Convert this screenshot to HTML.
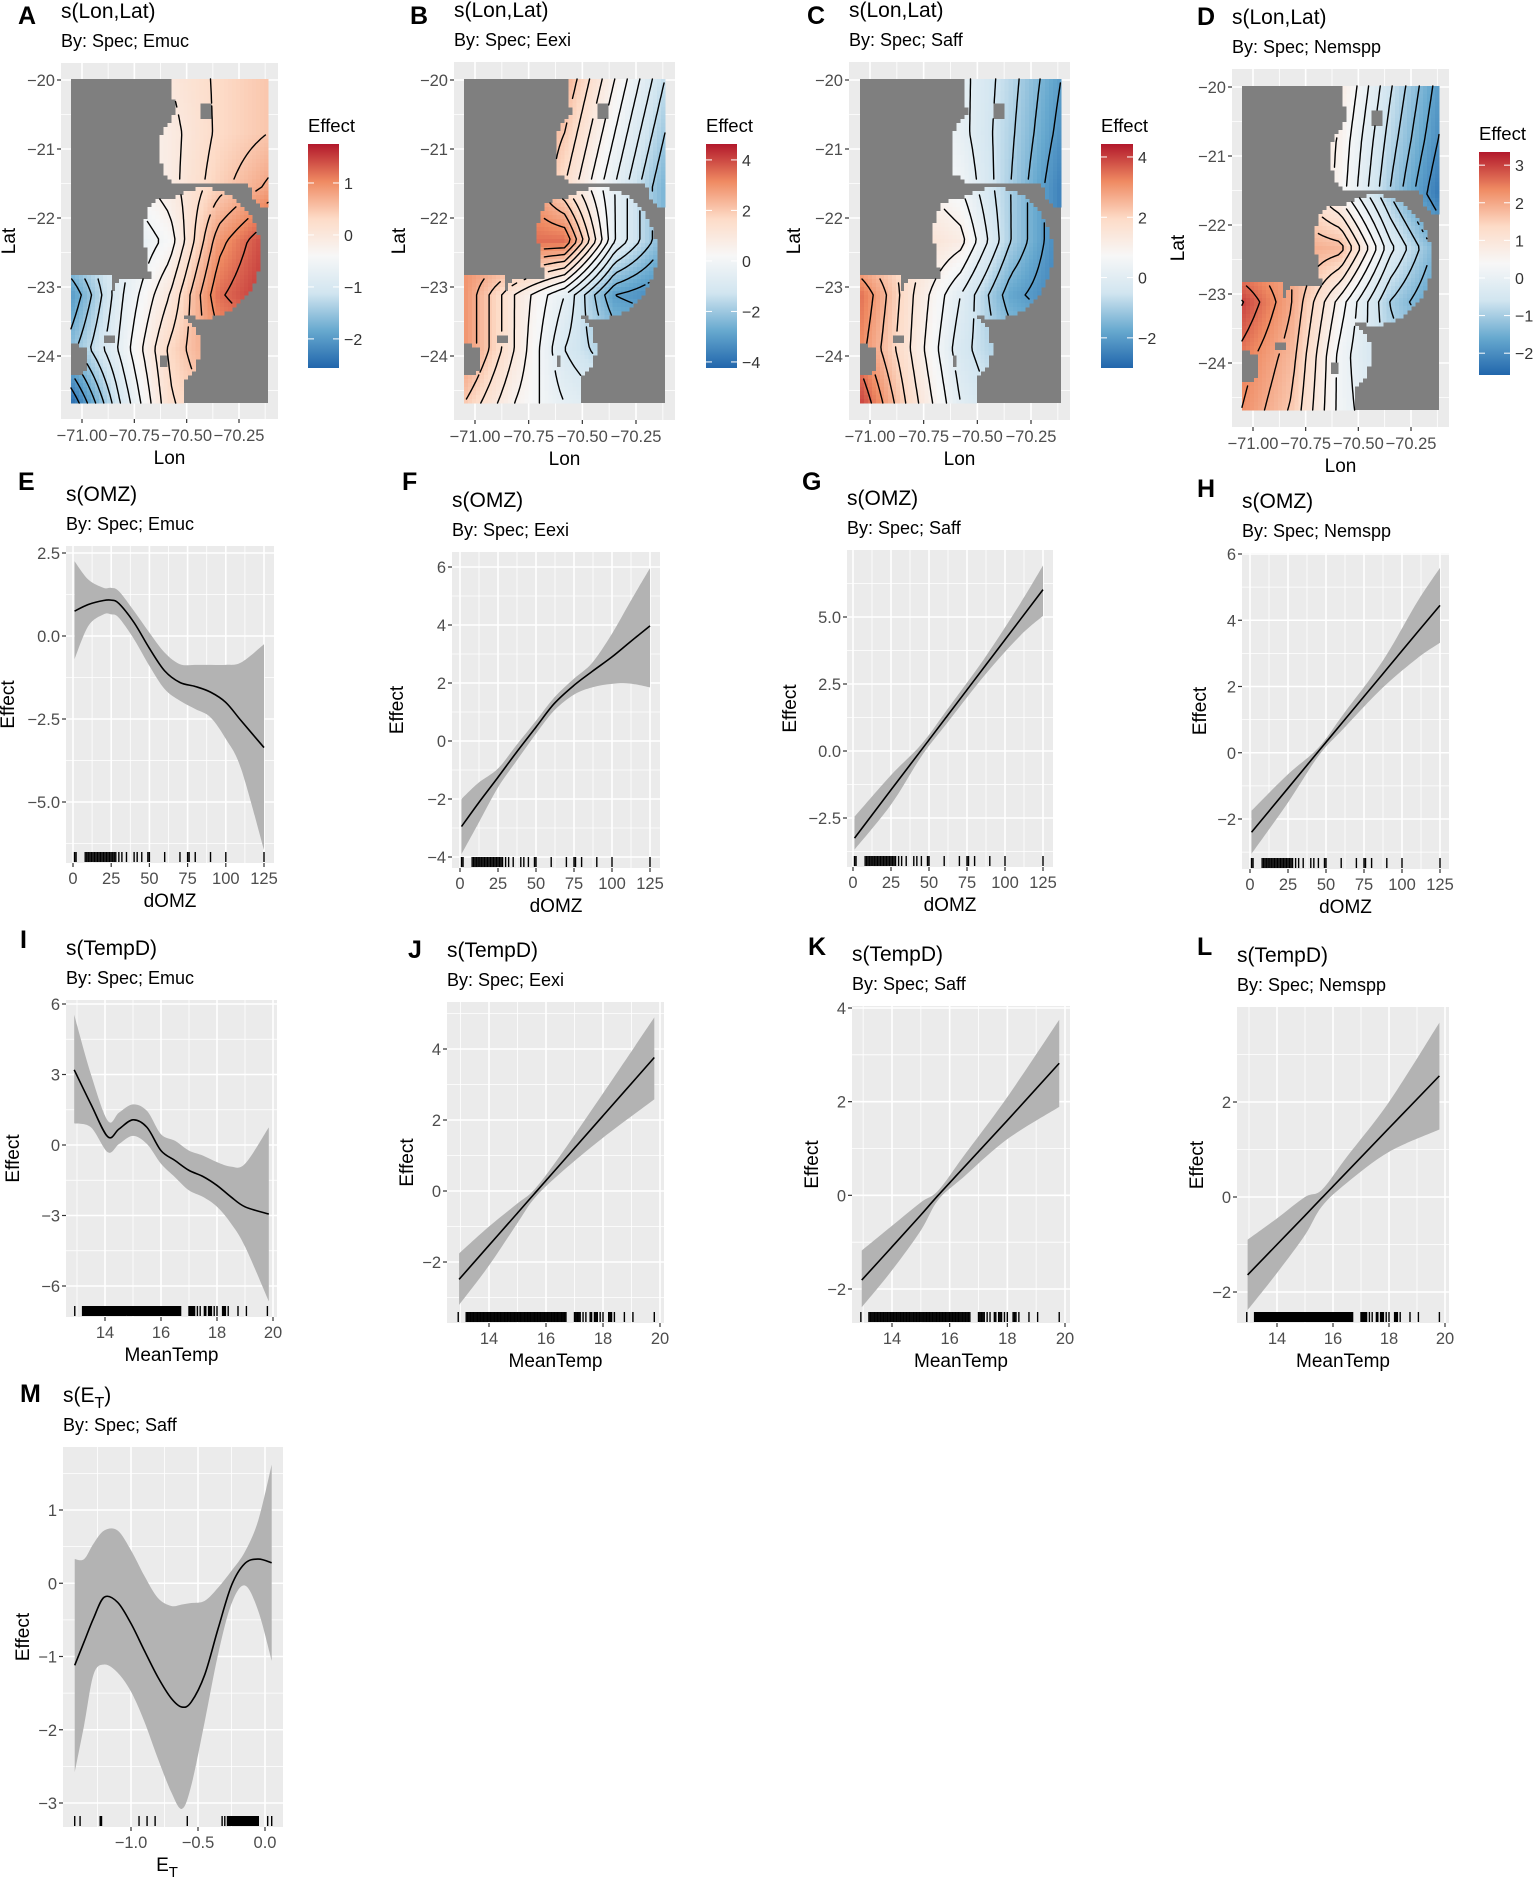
<!DOCTYPE html>
<html><head><meta charset="utf-8"><title>GAM smooth effects</title>
<style>
html,body{margin:0;padding:0;background:#fff;}
svg{display:block;font-family:"Liberation Sans",Arial,sans-serif;}
</style></head>
<body>
<svg id="chart" width="1535" height="1882" viewBox="0 0 1535 1882" xmlns="http://www.w3.org/2000/svg">
<defs>
<linearGradient id="rdbu" x1="0" y1="1" x2="0" y2="0">
<stop offset="0" stop-color="#2166ac"/><stop offset="0.1667" stop-color="#67a9cf"/><stop offset="0.3333" stop-color="#d1e5f0"/><stop offset="0.5" stop-color="#f7f7f7"/><stop offset="0.6667" stop-color="#fddbc7"/><stop offset="0.8333" stop-color="#ef8a62"/><stop offset="1" stop-color="#b2182b"/>
</linearGradient>
</defs>
<rect x="0" y="0" width="1535" height="1882" fill="#fff"/>
</svg>
<script>
// ---------------- DATA ----------------
const omzRug = [1,2,8,9,10,11,12,13,14,15,16,17,18,19,20,21,22,23,24,25,26,27,28,30,32,35,40,42,45,49,50,60,70,75,76,80,90,100,125];
const tempRug = [12.92,13.2,13.25,13.3,13.35,13.4,13.45,13.5,13.55,13.6,13.65,13.7,13.75,13.8,13.85,13.9,13.95,14.0,14.05,14.1,14.15,14.2,14.25,14.3,14.35,14.4,14.45,14.5,14.55,14.6,14.65,14.7,14.75,14.8,14.85,14.9,14.95,15.0,15.05,15.1,15.15,15.2,15.25,15.3,15.35,15.4,15.45,15.5,15.55,15.6,15.65,15.7,15.75,15.8,15.85,15.9,15.95,16.0,16.05,16.1,16.15,16.2,16.25,16.3,16.35,16.4,16.45,16.5,16.55,16.6,16.65,16.7,17.0,17.05,17.1,17.15,17.2,17.3,17.4,17.55,17.6,17.7,17.75,17.8,17.9,18.0,18.2,18.25,18.3,18.4,18.75,19.05,19.8];
const etRug = [-1.42,-1.38,-1.23,-1.22,-0.94,-0.88,-0.82,-0.58,-0.32,-0.3,-0.28,-0.27,-0.26,-0.25,-0.24,-0.23,-0.22,-0.21,-0.2,-0.19,-0.18,-0.17,-0.16,-0.15,-0.14,-0.13,-0.12,-0.11,-0.1,-0.09,-0.08,-0.07,-0.06,-0.05,0.02,0.05];

const omzE_x   = [1,10,20,25,30,40,50,60,70,80,90,100,110,125];
const omzE_fit = [0.75,0.95,1.07,1.08,0.98,0.4,-0.37,-1.05,-1.4,-1.52,-1.69,-2.0,-2.55,-3.36];
const omzE_hi  = [2.25,1.7,1.45,1.45,1.35,0.75,0.1,-0.5,-0.85,-0.87,-0.87,-0.87,-0.8,-0.25];
const omzE_lo  = [-0.7,0.3,0.65,0.65,0.55,-0.1,-0.9,-1.6,-1.95,-2.2,-2.45,-3.1,-4.0,-6.45];

const omzF_x   = [1,12,25,37,50,62,75,87,100,112,125];
const omzF_fit = [-2.95,-2.15,-1.25,-0.4,0.48,1.29,1.92,2.4,2.9,3.42,3.97];
const omzF_hi  = [-2.0,-1.45,-0.95,-0.15,0.7,1.5,2.15,2.7,3.7,4.8,5.96];
const omzF_lo  = [-3.9,-2.85,-1.6,-0.7,0.25,1.05,1.6,1.85,1.97,1.98,1.85];

const omzG_x   = [1,25,45,62,87,110,125];
const omzG_fit = [-3.25,-1.45,0.04,1.31,3.18,4.9,6.02];
const omzG_hi  = [-2.45,-0.9,0.25,1.55,3.5,5.5,6.92];
const omzG_lo  = [-3.68,-2.0,-0.2,1.05,2.85,4.3,5.04];

const omzH_x   = [1,25,45,62,87,110,125];
const omzH_fit = [-2.4,-1.07,0.04,0.98,2.36,3.63,4.45];
const omzH_hi  = [-1.75,-0.65,0.15,1.2,2.75,4.55,5.58];
const omzH_lo  = [-3.05,-1.5,-0.1,0.75,1.95,2.85,3.32];

const tmpI_x   = [12.9,13.5,14.1,14.5,15.0,15.5,16.0,16.5,17.0,17.5,18.0,18.5,19.0,19.85];
const tmpI_fit = [3.2,1.73,0.35,0.68,1.07,0.75,-0.24,-0.66,-1.08,-1.34,-1.72,-2.21,-2.63,-2.94];
const tmpI_hi  = [5.54,3.0,1.03,1.38,1.73,1.45,0.46,0.18,-0.24,-0.45,-0.73,-0.92,-0.8,0.75];
const tmpI_lo  = [0.92,0.75,-0.31,0.04,0.39,0.04,-0.8,-1.37,-1.93,-2.21,-2.63,-3.34,-4.32,-6.65];

const tmpJ_x   = [12.95,14,15,15.6,16.5,18,19.8];
const tmpJ_fit = [-2.49,-1.53,-0.62,-0.07,0.75,2.12,3.76];
const tmpJ_hi  = [-1.76,-1.0,-0.35,0.05,1.0,2.75,4.89];
const tmpJ_lo  = [-3.21,-2.1,-0.9,-0.2,0.5,1.5,2.58];

const tmpK_x   = [12.95,14,15,15.6,16.5,18,19.8];
const tmpK_fit = [-1.81,-1.1,-0.42,0.0,0.6,1.6,2.82];
const tmpK_hi  = [-1.18,-0.65,-0.15,0.1,0.85,2.1,3.75];
const tmpK_lo  = [-2.39,-1.6,-0.75,-0.1,0.4,1.2,1.89];

const tmpL_x   = [12.95,14,15,15.6,16.5,18,19.8];
const tmpL_fit = [-1.64,-1.0,-0.39,-0.02,0.53,1.45,2.55];
const tmpL_hi  = [-0.9,-0.45,0.0,0.15,0.85,2.0,3.67];
const tmpL_lo  = [-2.38,-1.6,-0.8,-0.2,0.3,0.95,1.42];

const etM_x   = [-1.42,-1.35,-1.28,-1.2,-1.1,-1.0,-0.9,-0.8,-0.7,-0.62,-0.55,-0.45,-0.35,-0.25,-0.15,-0.05,0.05];
const etM_fit = [-1.12,-0.8,-0.48,-0.19,-0.26,-0.55,-0.92,-1.28,-1.57,-1.69,-1.62,-1.25,-0.62,-0.03,0.27,0.33,0.28];
const etM_hi  = [0.33,0.33,0.54,0.72,0.72,0.45,0.1,-0.2,-0.31,-0.29,-0.27,-0.24,-0.06,0.17,0.43,0.86,1.62];
const etM_lo  = [-2.58,-1.94,-1.25,-1.11,-1.22,-1.48,-1.89,-2.39,-2.85,-3.08,-2.76,-1.89,-0.97,-0.28,-0.03,-0.38,-1.06];

// spatial effect grids (rows north->south, cols west->east)
const mapA_vals = [[-0.5,-0.3,0,0.3,0.5],[-0.6,-0.4,-0.1,0.3,0.5],[-0.8,-0.5,-0.1,0.4,0.8],[-1.2,-0.9,-0.4,0.9,1.5],[-2.0,-0.8,0.0,1.2,1.6],[-1.6,-0.7,0.3,0.9,1.0],[-2.5,-1.0,0.2,0.6,0.6]];
const mapB_vals = [[3,3,2.5,0.5,-1.5],[3,3,2,0,-2],[3.5,3.5,1.5,-0.5,-2.5],[3,3.5,3.5,-0.5,-2.5],[3,1,-0.5,-3,-3.5],[3,1,-1,-2,-2],[2,0.5,-0.5,-1,-1]];
const mapC_vals = [[1,0.8,0.2,-0.8,-2],[1,0.8,0.2,-0.9,-2.2],[1.5,1.2,0.5,-1,-2.5],[2,1.8,1.2,-1,-2.5],[3.5,1.6,0,-1.8,-2.5],[3.2,1.5,-0.3,-1.2,-1.5],[4,1.8,0,-0.8,-1]];
const mapD_vals = [[1.5,1.3,0.8,-0.6,-1.8],[1.5,1.3,0.6,-0.8,-2],[1.8,1.6,0.5,-1,-2.3],[2,2,1.8,-0.2,-1.5],[3,2,0.5,-1,-1.8],[2.5,1.8,0.2,-0.8,-1],[2.3,1.6,0.2,-0.5,-0.5]];
const mapA_cbTicks = [1,0,-1,-2];
const mapB_cbTicks = [4,2,0,-2,-4];
const mapC_cbTicks = [4,2,0,-2];
const mapD_cbTicks = [3,2,1,0,-1,-2];
const lonTicks = [-71,-70.75,-70.5,-70.25];
const lonLabels = ["−71.00","−70.75","−70.50","−70.25"];
const latTicks = [-20,-21,-22,-23,-24];

// ---------------- HELPERS ----------------
const NS='http://www.w3.org/2000/svg';
const svg=document.getElementById('chart');
const TICKFS=16.5;
function mk(tag,attrs,parent){const e=document.createElementNS(NS,tag);for(const k in attrs)e.setAttribute(k,attrs[k]);(parent||svg).appendChild(e);return e;}
function lin(v0,p0,v1,p1){return v=>p0+(v-v0)*(p1-p0)/(v1-v0);}
function fmt(v){return (v<0?'−':'')+Math.abs(v);}
function txt(parent,x,y,s,size,anchor,fill,weight,name){
  const t=mk('text',{x:x,y:y,'font-size':size,'text-anchor':anchor||'start',fill:fill||'#000','font-weight':weight||'normal'},parent);
  t.textContent=s;
  
  
  return t;
}
function smoothPath(pts,move){
  let d=(move?'M':'L')+pts[0][0].toFixed(2)+','+pts[0][1].toFixed(2);
  for(let i=0;i<pts.length-1;i++){
    const p0=pts[Math.max(0,i-1)],p1=pts[i],p2=pts[i+1],p3=pts[Math.min(pts.length-1,i+2)];
    const c1x=p1[0]+(p2[0]-p0[0])/6,c1y=p1[1]+(p2[1]-p0[1])/6;
    const c2x=p2[0]-(p3[0]-p1[0])/6,c2y=p2[1]-(p3[1]-p1[1])/6;
    d+='C'+c1x.toFixed(2)+','+c1y.toFixed(2)+' '+c2x.toFixed(2)+','+c2y.toFixed(2)+' '+p2[0].toFixed(2)+','+p2[1].toFixed(2);
  }
  return d;
}
function minors(ticks,lo,hi){
  const st=ticks[1]-ticks[0],out=[];
  const a=Math.min(ticks[0],ticks[ticks.length-1]),b=Math.max(ticks[0],ticks[ticks.length-1]),s=Math.abs(st);
  for(let v=a-s/2;v<=b+s/2+1e-9;v+=s){if(v>=lo&&v<=hi)out.push(v);}
  return out;
}
function headings(g,p){
  txt(g,p.lx,p.ly,p.letter,25,'start','#000','bold','panel-letter');
  if(p.sub){
    const t=mk('text',{x:p.left,y:p.top-45,'font-size':21,fill:'#000'},g);
    
    
    t.appendChild(document.createTextNode('s(E'));
    const ts=mk('tspan',{'font-size':16,dy:6},t); ts.textContent='T';
    const t2=mk('tspan',{dy:-6},t); t2.textContent=')';
  } else txt(g,p.left,p.top-45,p.title,21,'start','#000','normal','panel-title');
  txt(g,p.left,p.top-16,p.subtitle,18,'start','#000','normal','panel-subtitle');
}

// ---------------- LINE PANELS ----------------
const linePanels=[
 {id:'E',letter:'E',lx:18,ly:490,title:'s(OMZ)',subtitle:'By: Spec; Emuc',left:66,top:546,right:274,bottom:863,xa:[0,73,125,264],ya:[2.5,553,-5,802],xt:[0,25,50,75,100,125],xl:['0','25','50','75','100','125'],yt:[2.5,0,-2.5,-5],yl:['2.5','0.0','−2.5','−5.0'],xlab:'dOMZ',ylx:8,x:omzE_x,fit:omzE_fit,hi:omzE_hi,lo:omzE_lo,rug:omzRug},
 {id:'F',letter:'F',lx:402,ly:490,title:'s(OMZ)',subtitle:'By: Spec; Eexi',left:452,top:552,right:660,bottom:868,xa:[0,460,125,650],ya:[6,567,-4,857],xt:[0,25,50,75,100,125],xl:['0','25','50','75','100','125'],yt:[6,4,2,0,-2,-4],yl:['6','4','2','0','−2','−4'],xlab:'dOMZ',ylx:397,x:omzF_x,fit:omzF_fit,hi:omzF_hi,lo:omzF_lo,rug:omzRug},
 {id:'G',letter:'G',lx:802,ly:490,title:'s(OMZ)',subtitle:'By: Spec; Saff',left:847,top:550,right:1053,bottom:867,xa:[0,853,125,1043],ya:[5,617,-2.5,818],xt:[0,25,50,75,100,125],xl:['0','25','50','75','100','125'],yt:[5,2.5,0,-2.5],yl:['5.0','2.5','0.0','−2.5'],xlab:'dOMZ',ylx:790,x:omzG_x,fit:omzG_fit,hi:omzG_hi,lo:omzG_lo,rug:omzRug},
 {id:'H',letter:'H',lx:1197,ly:497,title:'s(OMZ)',subtitle:'By: Spec; Nemspp',left:1242,top:553,right:1449,bottom:869,xa:[0,1250,125,1440],ya:[6,554,-2,819],xt:[0,25,50,75,100,125],xl:['0','25','50','75','100','125'],yt:[6,4,2,0,-2],yl:['6','4','2','0','−2'],xlab:'dOMZ',ylx:1200,x:omzH_x,fit:omzH_fit,hi:omzH_hi,lo:omzH_lo,rug:omzRug},
 {id:'I',letter:'I',lx:20,ly:948,title:'s(TempD)',subtitle:'By: Spec; Emuc',left:66,top:1000,right:277,bottom:1317,xa:[14,105,20,273],ya:[6,1004,-6,1286],xt:[14,16,18,20],xl:['14','16','18','20'],yt:[6,3,0,-3,-6],yl:['6','3','0','−3','−6'],xlab:'MeanTemp',ylx:13,x:tmpI_x,fit:tmpI_fit,hi:tmpI_hi,lo:tmpI_lo,rug:tempRug},
 {id:'J',letter:'J',lx:408,ly:958,title:'s(TempD)',subtitle:'By: Spec; Eexi',left:447,top:1002,right:664,bottom:1323,xa:[14,489,20,660],ya:[4,1049,-2,1262],xt:[14,16,18,20],xl:['14','16','18','20'],yt:[4,2,0,-2],yl:['4','2','0','−2'],xlab:'MeanTemp',ylx:407,x:tmpJ_x,fit:tmpJ_fit,hi:tmpJ_hi,lo:tmpJ_lo,rug:tempRug},
 {id:'K',letter:'K',lx:808,ly:955,title:'s(TempD)',subtitle:'By: Spec; Saff',left:852,top:1006,right:1070,bottom:1323,xa:[14,892,20,1065],ya:[4,1008,-2,1289],xt:[14,16,18,20],xl:['14','16','18','20'],yt:[4,2,0,-2],yl:['4','2','0','−2'],xlab:'MeanTemp',ylx:812,x:tmpK_x,fit:tmpK_fit,hi:tmpK_hi,lo:tmpK_lo,rug:tempRug},
 {id:'L',letter:'L',lx:1197,ly:955,title:'s(TempD)',subtitle:'By: Spec; Nemspp',left:1237,top:1007,right:1449,bottom:1323,xa:[14,1277,20,1445],ya:[2,1102,-2,1292],xt:[14,16,18,20],xl:['14','16','18','20'],yt:[2,0,-2],yl:['2','0','−2'],xlab:'MeanTemp',ylx:1197,x:tmpL_x,fit:tmpL_fit,hi:tmpL_hi,lo:tmpL_lo,rug:tempRug},
 {id:'M',letter:'M',lx:20,ly:1402,sub:true,subtitle:'By: Spec; Saff',left:63,top:1447,right:283,bottom:1827,xa:[-1,131,0,265],ya:[1,1510,-3,1803],xt:[-1,-0.5,0],xl:['−1.0','−0.5','0.0'],yt:[1,0,-1,-2,-3],yl:['1','0','−1','−2','−3'],xlab:'E',ylx:23,x:etM_x,fit:etM_fit,hi:etM_hi,lo:etM_lo,rug:etRug}
];

linePanels.forEach(p=>{
  const g=mk('g',{});
  
  
  headings(g,p);
  const sx=lin(p.xa[0],p.xa[1],p.xa[2],p.xa[3]);
  const sy=lin(p.ya[0],p.ya[1],p.ya[2],p.ya[3]);
  const inv=v=>p.xa[0]+(v-p.xa[1])*(p.xa[2]-p.xa[0])/(p.xa[3]-p.xa[1]);
  const invy=v=>p.ya[0]+(v-p.ya[1])*(p.ya[2]-p.ya[0])/(p.ya[3]-p.ya[1]);
  const bg=mk('rect',{x:p.left,y:p.top,width:p.right-p.left,height:p.bottom-p.top,fill:'#ebebeb'},g);
  
  
  const xlo=inv(p.left),xhi=inv(p.right),ylo=invy(p.bottom),yhi=invy(p.top);
  minors(p.xt,xlo,xhi).forEach(v=>{const l=mk('line',{x1:sx(v),x2:sx(v),y1:p.top,y2:p.bottom,stroke:'#fff','stroke-width':0.8},g);});
  minors(p.yt,ylo,yhi).forEach(v=>{const l=mk('line',{y1:sy(v),y2:sy(v),x1:p.left,x2:p.right,stroke:'#fff','stroke-width':0.8},g);});
  p.xt.forEach(v=>{const l=mk('line',{x1:sx(v),x2:sx(v),y1:p.top,y2:p.bottom,stroke:'#fff','stroke-width':1.6},g);});
  p.yt.forEach(v=>{const l=mk('line',{y1:sy(v),y2:sy(v),x1:p.left,x2:p.right,stroke:'#fff','stroke-width':1.6},g);});
  // ribbon
  const up=p.x.map((v,i)=>[sx(v),sy(p.hi[i])]);
  const dn=p.x.map((v,i)=>[sx(v),sy(p.lo[i])]).reverse();
  const rib=mk('path',{d:smoothPath(up,true)+'L'+dn[0][0]+','+dn[0][1]+smoothPath(dn,false).slice(1).replace(/^[^C]*/,'')+'Z',fill:'#b3b3b3'},g);
  
  
  const ln=mk('path',{d:smoothPath(p.x.map((v,i)=>[sx(v),sy(p.fit[i])]),true),fill:'none',stroke:'#000','stroke-width':1.6},g);
  
  
  // rug
  let rd='';
  p.rug.forEach(v=>{const x=sx(v).toFixed(2);rd+='M'+x+','+(p.bottom-11)+'L'+x+','+(p.bottom-1);});
  const rug=mk('path',{d:rd,stroke:'#000','stroke-width':1.4,fill:'none'},g);
  
  
  // axes
  p.xt.forEach((v,i)=>{
    const t=mk('line',{x1:sx(v),x2:sx(v),y1:p.bottom,y2:p.bottom+4,stroke:'#333','stroke-width':1.2},g);
    
    
    txt(g,sx(v),p.bottom+21,p.xl[i],TICKFS,'middle','#4d4d4d','normal','x-tick-label');
  });
  p.yt.forEach((v,i)=>{
    const t=mk('line',{x1:p.left-4,x2:p.left,y1:sy(v),y2:sy(v),stroke:'#333','stroke-width':1.2},g);
    
    
    txt(g,p.left-6,sy(v)+6,p.yl[i],TICKFS,'end','#4d4d4d','normal','y-tick-label');
  });
  const cx=(p.left+p.right)/2;
  if(p.sub){
    const t=mk('text',{x:cx-6,y:p.bottom+44,'font-size':19,'text-anchor':'middle',fill:'#000'},g);
    
    
    t.appendChild(document.createTextNode('E'));
    const ts=mk('tspan',{'font-size':15,dy:6},t);ts.textContent='T';
  } else txt(g,cx,p.bottom+44,p.xlab,19,'middle','#000','normal','x-axis-title');
  const yl=txt(g,p.ylx+6,(p.top+p.bottom)/2,'Effect',19,'middle','#000','normal','y-axis-title');
  yl.setAttribute('transform','rotate(-90 '+(p.ylx+6)+' '+((p.top+p.bottom)/2)+')');
});

// ---------------- MAP PANELS ----------------
const northPoly=[[0.51,0],[1,0],[1,0.393],[0.94,0.388],[0.899,0.316],[0.721,0.316],[0.654,0.319],[0.586,0.319],[0.519,0.316],[0.468,0.29],[0.451,0.239],[0.459,0.167],[0.493,0.136],[0.535,0.105],[0.519,0.053]];
const southPoly=[[0,0.609],[0.198,0.609],[0.206,0.66],[0.24,0.619],[0.519,0.609],[0.561,0.66],[0.569,0.733],[0.637,0.774],[0.654,0.835],[0.637,0.887],[0.578,0.928],[0.578,1],[0,1],[0,0.918],[0.071,0.907],[0.079,0.825],[0,0.815]];
function inPoly(u,v,poly){let c=false;for(let i=0,j=poly.length-1;i<poly.length;j=i++){const a=poly[i],b=poly[j];if(((a[1]>v)!=(b[1]>v))&&(u<(b[0]-a[0])*(v-a[1])/(b[1]-a[1])+a[0]))c=!c;}return c;}
function inEll(u,v,cx,cy,rx,ry){const a=(u-cx)/rx,b=(v-cy)/ry;return a*a+b*b<=1;}
function inBox(u,v,x0,x1,y0,y1){return u>=x0&&u<=x1&&v>=y0&&v<=y1;}
function inMask(u,v){
  if(inPoly(u,v,northPoly)&&!inBox(u,v,0.66,0.71,0.08,0.12))return true;
  if(inEll(u,v,0.671,0.537,0.287,0.2)&&u<=1)return true;
  if(inEll(u,v,0.476,0.475,0.11,0.108))return true;
  if(inPoly(u,v,southPoly)&&!inBox(u,v,0.16,0.22,0.79,0.82)&&!inBox(u,v,0.455,0.485,0.855,0.895))return true;
  return false;
}
const RD=[[33,102,172],[103,169,207],[209,229,240],[247,247,247],[253,219,199],[239,138,98],[178,24,43]];
function colorOf(t){t=Math.max(0,Math.min(1,t))*6;const i=Math.min(5,Math.floor(t)),f=t-i,a=RD[i],b=RD[i+1];return 'rgb('+Math.round(a[0]+(b[0]-a[0])*f)+','+Math.round(a[1]+(b[1]-a[1])*f)+','+Math.round(a[2]+(b[2]-a[2])*f)+')';}
function bilin(G,u,v){const R=G.length,C=G[0].length;const gx=Math.max(0,Math.min(C-1,u*(C-1))),gy=Math.max(0,Math.min(R-1,v*(R-1)));const i=Math.min(C-2,Math.floor(gx)),j=Math.min(R-2,Math.floor(gy));const fx=gx-i,fy=gy-j;const a=G[j][i],b=G[j][i+1],c=G[j+1][i],d=G[j+1][i+1];return a*(1-fx)*(1-fy)+b*fx*(1-fy)+c*(1-fx)*fy+d*fx*fy;}

const mapPanels=[
 {id:'A',lx:18,ly:24,subtitle:'By: Spec; Emuc',left:61,top:63,right:278,bottom:419,tile:[71,79,268,403],lon:[82,239],lat:[80,356],cb:[308,144,339,368],cbR:[-2.56,1.75],cbT:mapA_cbTicks,vals:mapA_vals,step:0.25,ylx:8},
 {id:'B',lx:410,ly:24,subtitle:'By: Spec; Eexi',left:454,top:62,right:675,bottom:420,tile:[464,79,665,403],lon:[475,636],lat:[80,356],cb:[706,144,737,368],cbR:[-4.24,4.63],cbT:mapB_cbTicks,vals:mapB_vals,step:0.5,ylx:398},
 {id:'C',lx:807,ly:24,subtitle:'By: Spec; Saff',left:849,top:62,right:1070,bottom:420,tile:[860,79,1061,403],lon:[870,1031],lat:[80,356],cb:[1101,144,1133,368],cbR:[-3.0,4.43],cbT:mapC_cbTicks,vals:mapC_vals,step:0.5,ylx:793},
 {id:'D',lx:1197,ly:25,subtitle:'By: Spec; Nemspp',left:1232,top:69,right:1449,bottom:427,tile:[1242,86,1439,410],lon:[1253,1411],lat:[87,363],cb:[1479,152,1510,375],cbR:[-2.58,3.35],cbT:mapD_cbTicks,vals:mapD_vals,step:0.33,ylx:1177}
];

mapPanels.forEach(p=>{
  const g=mk('g',{});
  
  
  p.letter=p.id; p.title='s(Lon,Lat)';
  headings(g,p);
  const sx=lin(-71,p.lon[0],-70.25,p.lon[1]);
  const sy=lin(-20,p.lat[0],-24,p.lat[1]);
  const bg=mk('rect',{x:p.left,y:p.top,width:p.right-p.left,height:p.bottom-p.top,fill:'#ebebeb'},g);
  
  
  [-71.125,-70.875,-70.625,-70.375,-70.125].forEach(v=>{const x=sx(v);if(x>p.left&&x<p.right){const l=mk('line',{x1:x,x2:x,y1:p.top,y2:p.bottom,stroke:'#fff','stroke-width':0.8},g);}});
  [-19.5,-20.5,-21.5,-22.5,-23.5,-24.5].forEach(v=>{const y=sy(v);if(y>p.top&&y<p.bottom){const l=mk('line',{y1:y,y2:y,x1:p.left,x2:p.right,stroke:'#fff','stroke-width':0.8},g);}});
  lonTicks.forEach(v=>{const l=mk('line',{x1:sx(v),x2:sx(v),y1:p.top,y2:p.bottom,stroke:'#fff','stroke-width':1.6},g);});
  latTicks.forEach(v=>{const l=mk('line',{y1:sy(v),y2:sy(v),x1:p.left,x2:p.right,stroke:'#fff','stroke-width':1.6},g);});
  const [tx0,ty0,tx1,ty1]=p.tile;
  const tw=tx1-tx0,th=ty1-ty0;
  const gray=mk('rect',{x:tx0,y:ty0,width:tw,height:th,fill:'#7f7f7f'},g);
  
  
  const cols=Math.round(tw/4),rows=Math.round(th/4),cw=tw/cols,ch=th/rows;
  const lo=p.cbR[0],hi=p.cbR[1];
  const cells=mk('g',{'shape-rendering':'crispEdges'},g);
  
  
  for(let j=0;j<rows;j++)for(let i=0;i<cols;i++){
    const u=(i+0.5)/cols,v=(j+0.5)/rows;
    if(!inMask(u,v))continue;
    const val=bilin(p.vals,u,v);
    const r=mk('rect',{x:(tx0+i*cw).toFixed(2),y:(ty0+j*ch).toFixed(2),width:(cw+0.6).toFixed(2),height:(ch+0.6).toFixed(2),fill:colorOf((val-lo)/(hi-lo))},cells);
    
    
  }
  // contours (marching squares on node grid)
  const V=[],M=[];
  for(let j=0;j<=rows;j++){V.push([]);M.push([]);for(let i=0;i<=cols;i++){const u=i/cols,v=j/rows;V[j].push(bilin(p.vals,u,v));M[j].push(inMask(Math.min(0.999,Math.max(0.001,u)),Math.min(0.999,Math.max(0.001,v))));}}
  let d='';
  for(let L=Math.ceil(lo/p.step)*p.step;L<=hi;L+=p.step){
    for(let j=0;j<rows;j++)for(let i=0;i<cols;i++){
      if(!(M[j][i]&&M[j][i+1]&&M[j+1][i]&&M[j+1][i+1]))continue;
      const a=V[j][i],b=V[j][i+1],c=V[j+1][i+1],e=V[j+1][i];
      const x0=tx0+i*cw,y0=ty0+j*ch,pts=[];
      if((a-L)*(b-L)<0)pts.push([x0+cw*(L-a)/(b-a),y0]);
      if((b-L)*(c-L)<0)pts.push([x0+cw,y0+ch*(L-b)/(c-b)]);
      if((e-L)*(c-L)<0)pts.push([x0+cw*(L-e)/(c-e),y0+ch]);
      if((a-L)*(e-L)<0)pts.push([x0,y0+ch*(L-a)/(e-a)]);
      for(let k=0;k+1<pts.length;k+=2)d+='M'+pts[k][0].toFixed(1)+','+pts[k][1].toFixed(1)+'L'+pts[k+1][0].toFixed(1)+','+pts[k+1][1].toFixed(1);
    }
  }
  const ct=mk('path',{d:d,fill:'none',stroke:'#000','stroke-width':1.4,'stroke-linecap':'round'},g);
  
  
  // axes
  lonTicks.forEach((v,i)=>{
    const t=mk('line',{x1:sx(v),x2:sx(v),y1:p.bottom,y2:p.bottom+4,stroke:'#333','stroke-width':1.2},g);
    
    
    txt(g,sx(v),p.bottom+22,lonLabels[i],TICKFS,'middle','#4d4d4d','normal','x-tick-label');
  });
  latTicks.forEach(v=>{
    const t=mk('line',{x1:p.left-4,x2:p.left,y1:sy(v),y2:sy(v),stroke:'#333','stroke-width':1.2},g);
    
    
    txt(g,p.left-6,sy(v)+6,fmt(v),TICKFS,'end','#4d4d4d','normal','y-tick-label');
  });
  txt(g,(p.left+p.right)/2,p.bottom+45,'Lon',19,'middle','#000','normal','x-axis-title');
  const yl=txt(g,p.ylx+7,(p.top+p.bottom)/2,'Lat',19,'middle','#000','normal','y-axis-title');
  yl.setAttribute('transform','rotate(-90 '+(p.ylx+7)+' '+((p.top+p.bottom)/2)+')');
  // colorbar legend
  const [c0,c1,c2,c3]=p.cb;
  const lg=mk('g',{},g);
  
  
  txt(lg,c0,c1-12,'Effect',18.5,'start','#000','normal','legend-title');
  const bar=mk('rect',{x:c0,y:c1,width:c2-c0,height:c3-c1,fill:'url(#rdbu)'},lg);
  
  
  const cy=lin(lo,c3,hi,c1);
  p.cbT.forEach(v=>{
    const y=cy(v);
    const t1=mk('line',{x1:c0,x2:c0+6,y1:y,y2:y,stroke:'#fff','stroke-width':1},lg);
    
    
    const t2=mk('line',{x1:c2-6,x2:c2,y1:y,y2:y,stroke:'#fff','stroke-width':1},lg);
    
    
    txt(lg,c2+5,y+6,fmt(v),16,'start','#333','normal','colorbar-label');
  });
});
</script>
</body></html>
